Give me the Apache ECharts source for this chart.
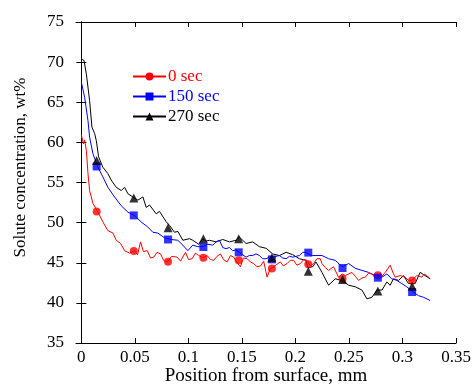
<!DOCTYPE html>
<html>
<head>
<meta charset="utf-8">
<script src="https://cdn.jsdelivr.net/npm/echarts@6/dist/echarts.min.js"></script>
<style>
  html, body { margin: 0; padding: 0; background: #fff; }
  #chart { width: 474px; height: 385px; }
</style>
</head>
<body>
<div id="chart"></div>
<script>
// profiles: [position mm, wt%]
const red0 = [
  [0.000, 60.9], [0.002, 59.8], [0.003, 60.3], [0.0047, 59.0], [0.0062, 56.1], [0.0077, 54.0],
  [0.0108, 52.4], [0.0155, 51.3], [0.0201, 50.1], [0.0248, 49.0], [0.0295, 48.7], [0.0326, 47.8],
  [0.0367, 47.4], [0.0404, 46.5], [0.045, 46.2], [0.0497, 46.5], [0.0525, 46.0], [0.0553, 47.6],
  [0.058, 46.4], [0.0616, 46.5], [0.0646, 45.6], [0.0677, 45.7], [0.0707, 46.3], [0.074, 46.1],
  [0.0768, 45.3], [0.0808, 45.1], [0.0842, 45.8], [0.0896, 45.7], [0.0926, 45.2], [0.0973, 46.3],
  [0.1001, 45.4], [0.1035, 45.5], [0.1066, 46.2], [0.1097, 45.9], [0.1138, 45.6], [0.1175, 45.9],
  [0.1206, 45.4], [0.1237, 45.3], [0.1267, 45.8], [0.13, 46.1], [0.1327, 45.4], [0.1362, 45.1],
  [0.1393, 45.9], [0.1424, 45.7], [0.1453, 45.0], [0.1486, 44.5], [0.1514, 45.6], [0.1549, 45.5],
  [0.1579, 45.1], [0.161, 44.9], [0.1642, 44.5], [0.1673, 44.6], [0.1703, 45.2], [0.1735, 43.2],
  [0.1766, 44.3], [0.1797, 44.5], [0.1826, 44.8], [0.1859, 45.1], [0.1887, 44.6], [0.1922, 44.9],
  [0.1952, 45.3], [0.1983, 45.3], [0.2013, 44.7], [0.2046, 44.9], [0.2078, 45.4], [0.2108, 45.3],
  [0.2139, 44.6], [0.217, 44.9], [0.22, 45.5], [0.2232, 45.5], [0.2248, 44.9], [0.2279, 44.4],
  [0.231, 44.05], [0.2356, 44.5], [0.2403, 43.2], [0.2435, 43.6], [0.2466, 43.4], [0.2528, 43.8],
  [0.256, 43.3], [0.259, 42.8], [0.2621, 43.1], [0.2652, 43.2], [0.2683, 43.7], [0.2715, 43.6],
  [0.2745, 43.1], [0.2776, 43.4], [0.2808, 43.3], [0.2839, 43.8], [0.2885, 44.7], [0.2913, 43.7],
  [0.2932, 43.2], [0.2979, 43.4], [0.3025, 43.2], [0.3056, 42.8], [0.3088, 42.8], [0.3134, 43.4],
  [0.3181, 43.2], [0.3202, 43.6], [0.3228, 43.4], [0.3258, 43.0]
];
const blue150 = [
  [0.000, 67.5], [0.0031, 65.6], [0.0062, 62.7], [0.0077, 60.65], [0.0108, 58.6], [0.0155, 56.9],
  [0.0201, 55.7], [0.0248, 54.4], [0.031, 53.2], [0.0373, 52.1], [0.0435, 51.3], [0.0497, 50.9],
  [0.056, 50.07], [0.0621, 49.45], [0.0668, 48.8], [0.0715, 48.7], [0.0777, 48.1], [0.0839, 47.9],
  [0.0901, 47.8], [0.0948, 47.2], [0.0995, 46.5], [0.1041, 47.2], [0.1088, 47.0], [0.1134, 47.0],
  [0.1181, 47.3], [0.1228, 47.2], [0.1259, 47.6], [0.129, 47.8], [0.1321, 46.9], [0.1352, 46.75],
  [0.1383, 46.9], [0.1414, 46.5], [0.1446, 46.6], [0.1476, 46.3], [0.1507, 46.0], [0.1539, 45.7],
  [0.157, 45.9], [0.1601, 45.9], [0.1632, 46.1], [0.1663, 45.9], [0.1694, 45.5], [0.1726, 45.5],
  [0.1757, 45.7], [0.1788, 45.7], [0.1819, 45.8], [0.185, 45.9], [0.1881, 45.6], [0.1913, 45.5],
  [0.1944, 45.8], [0.1975, 45.7], [0.2006, 45.8], [0.2037, 45.9], [0.2068, 46.3], [0.2099, 46.3],
  [0.213, 46.0], [0.2162, 45.9], [0.2192, 45.9], [0.2248, 45.9], [0.231, 45.5], [0.2372, 45.3],
  [0.2435, 44.5], [0.2497, 44.9], [0.256, 44.3], [0.2621, 44.05], [0.2683, 43.8], [0.2745, 43.4],
  [0.2808, 43.2], [0.2854, 43.6], [0.29, 43.0], [0.2947, 42.8], [0.2994, 42.4], [0.304, 42.0],
  [0.3102, 41.35], [0.3149, 40.9], [0.3196, 40.7], [0.3258, 40.3]
];
const black270 = [
  [0.000, 70.4], [0.0025, 70.2], [0.0047, 68.5], [0.0077, 65.2], [0.0099, 61.9], [0.0124, 61.1],
  [0.014, 60.2], [0.0161, 58.2], [0.0201, 56.9], [0.0248, 56.1], [0.0279, 55.3], [0.0326, 54.4],
  [0.0373, 54.0], [0.0404, 54.4], [0.0435, 53.6], [0.0481, 53.2], [0.0528, 52.8], [0.0575, 53.2],
  [0.0606, 51.9], [0.0637, 52.2], [0.0699, 51.1], [0.073, 51.4], [0.0793, 50.1], [0.0824, 49.65],
  [0.087, 48.8], [0.0902, 48.9], [0.0948, 47.8], [0.1009, 48.0], [0.1041, 47.8], [0.1097, 47.3],
  [0.1134, 48.0], [0.1165, 47.7], [0.1196, 47.8], [0.1259, 47.6], [0.1321, 47.9], [0.1383, 47.6],
  [0.1446, 47.8], [0.1476, 48.2], [0.1539, 47.4], [0.1601, 47.6], [0.1663, 47.0], [0.1726, 46.8],
  [0.1788, 46.1], [0.185, 45.9], [0.1913, 46.3], [0.1975, 46.0], [0.2037, 45.5], [0.2099, 45.3],
  [0.2115, 44.4], [0.2162, 44.5], [0.2192, 45.1], [0.2248, 43.8], [0.231, 42.2], [0.2372, 43.0],
  [0.2435, 42.8], [0.2497, 42.2], [0.256, 42.0], [0.2621, 41.6], [0.2668, 40.5], [0.2715, 40.7],
  [0.2761, 41.6], [0.2808, 41.6], [0.2854, 42.6], [0.2885, 42.2], [0.2916, 43.0], [0.2963, 42.8],
  [0.301, 43.4], [0.3056, 42.4], [0.3118, 42.4], [0.3165, 43.8], [0.3211, 43.4], [0.3258, 43.0]
];

// marker positions and values
const markerX = [0.0143, 0.049, 0.081, 0.114, 0.147, 0.178, 0.212, 0.244, 0.277, 0.309];
const markRed = [51.4, 46.46, 45.14, 45.63, 45.3, 44.27, 44.8, 43.02, 43.43, 42.8];
const markBlue = [57.0, 50.9, 47.9, 46.96, 46.3, 45.42, 46.26, 44.34, 43.14, 41.35];
const markBlack = [57.75, 53.06, 49.37, 48.0, 48.0, 45.63, 43.93, 42.9, 41.48, 42.06];

const xTicks = [0, 0.05, 0.1, 0.15, 0.2, 0.25, 0.3, 0.35];
const names = ["0 sec", "150 sec", "270 sec"];
const colors = ["#ff0000", "#0000ff", "#000000"];

const font = "'Liberation Serif', 'Times New Roman', serif";
const chart = echarts.init(document.getElementById("chart"));

const pairs = (ys) => markerX.map((x, i) => [x, ys[i]]);

const xBase = {
  type: "value",
  min: -0.005,
  max: 0.35,
  axisLine: { lineStyle: { color: "#000", width: 1 } },
  axisTick: { inside: true, length: 5, customValues: xTicks, lineStyle: { color: "#000" } },
  splitLine: { show: false },
};
const yBase = {
  type: "value",
  min: 35,
  max: 75,
  interval: 5,
  axisLine: { show: true, lineStyle: { color: "#000", width: 1 } },
  axisTick: { show: true, inside: true, length: 5, lineStyle: { color: "#000" } },
  splitLine: { show: false },
};

chart.setOption({
  backgroundColor: "#fff",
  animation: false,
  textStyle: { fontFamily: font },
  grid: { left: 76, right: 18, top: 22, bottom: 42, outerBoundsMode: "none" },
  legend: {
    left: 127,
    top: 63,
    orient: "vertical",
    itemWidth: 33,
    itemHeight: 10,
    itemGap: 3,
    data: names.map((n, i) => ({ name: n, textStyle: { color: colors[i] } })),
    textStyle: { fontFamily: font, fontSize: 17, padding: [0, 0, 0, -3] },
  },
  xAxis: [
    Object.assign({}, xBase, {
      position: "bottom",
      name: "Position from surface, mm",
      nameLocation: "middle",
      nameGap: 24,
      nameMoveOverlap: false,
      nameTextStyle: { color: "#000", fontSize: 19, fontFamily: font },
      axisLabel: {
        customValues: xTicks,
        color: "#000",
        fontSize: 17,
        fontFamily: font,
        margin: 6,
        formatter: (v) => String(v),
      },
    }),
    Object.assign({}, xBase, { position: "top", axisLabel: { show: false } }),
  ],
  yAxis: [
    Object.assign({}, yBase, {
      position: "left",
      name: "Solute concentration, wt%",
      nameLocation: "middle",
      nameGap: 47,
      nameMoveOverlap: false,
      nameTextStyle: { color: "#000", fontSize: 17, fontFamily: font, padding: [0, 0, 0, 30] },
      axisLabel: { color: "#000", fontSize: 17, fontFamily: font, margin: 12 },
    }),
    Object.assign({}, yBase, { position: "right", axisLabel: { show: false } }),
  ],
  series: [
    { name: names[0], type: "line", data: red0, symbol: "circle", symbolSize: 8, showSymbol: false,
      color: colors[0], lineStyle: { width: 1, color: colors[0] }, z: 3 },
    { name: names[1], type: "line", data: blue150, symbol: "rect", symbolSize: 8, showSymbol: false,
      color: colors[1], lineStyle: { width: 1, color: colors[1] }, z: 2 },
    { name: names[2], type: "line", data: black270, symbol: "triangle", symbolSize: 9, showSymbol: false,
      color: colors[2], lineStyle: { width: 1, color: colors[2] }, z: 1 },
    { name: "m0", type: "scatter", data: pairs(markRed), symbol: "circle", symbolSize: 8,
      itemStyle: { color: colors[0] }, z: 5 },
    { name: "m150", type: "scatter", data: pairs(markBlue), symbol: "rect", symbolSize: 8,
      itemStyle: { color: colors[1] }, z: 5 },
    { name: "m270", type: "scatter", data: pairs(markBlack), symbol: "triangle", symbolSize: 9,
      itemStyle: { color: colors[2] }, z: 5 },
  ],
});
</script>
</body>
</html>
